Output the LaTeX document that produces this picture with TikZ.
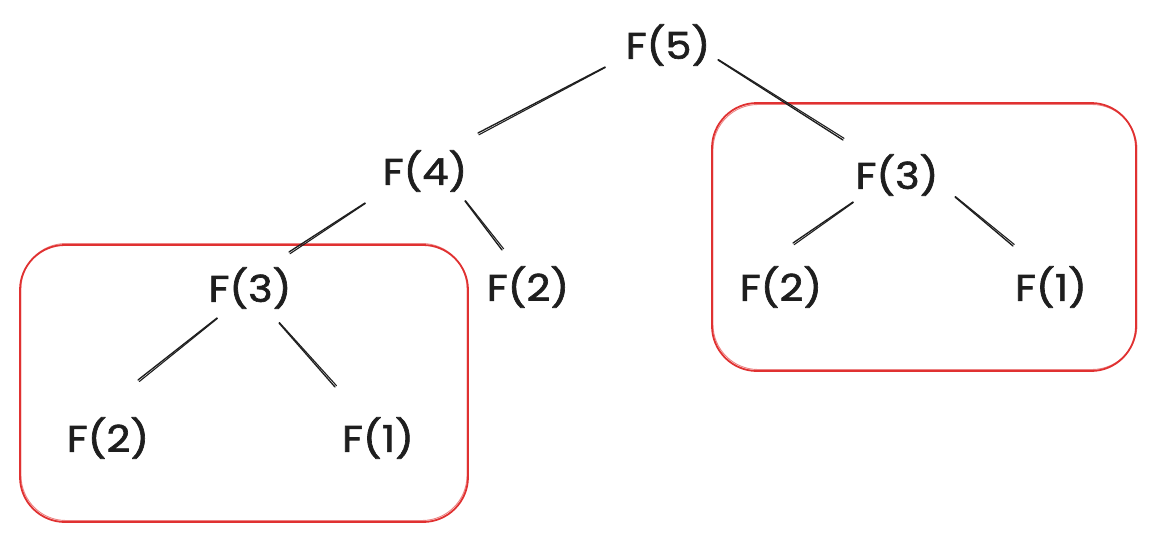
\documentclass[tikz,border=0pt]{standalone}
\usepackage{fontspec}
\setmainfont{Poppins}[FakeStretch=1.12, FakeBold=1.8]
\usetikzlibrary{calc}
\definecolor{ink}{HTML}{1E1E1E}
\definecolor{boxred}{HTML}{E03131}
\tikzset{
  lbl/.style={font=\fontsize{37}{40}\selectfont, text=ink, inner sep=0pt},
  edge/.style={draw=ink, line width=1.35pt, line cap=round},
  edgeb/.style={draw=ink, line width=1.1pt, line cap=round},
  grp/.style={draw=boxred, line width=1.8pt, rounded corners=45pt},
  grpb/.style={draw=boxred, line width=0.9pt, rounded corners=45pt, opacity=0.6},
}
\begin{document}
\begin{tikzpicture}[x=1pt, y=-1pt]
\useasboundingbox (0,0) rectangle (1156,541);

% groups
\draw[grp]  (20,245) rectangle (468,522);
\draw[grpb] (21,243.5) rectangle (467,520.5);
\draw[grp]  (712,103) rectangle (1136,371);
\draw[grpb] (713,104.5) rectangle (1137,369.5);

% nodes
\node[lbl] (n5)  at (668,45)  {F(5)};
\node[lbl] (n4)  at (425,171) {F(4)};
\node[lbl] (n3r) at (897,175) {F(3)};
\node[lbl] (n3l) at (250,288) {F(3)};
\node[lbl] (n2m) at (528,287) {F(2)};
\node[lbl] (n2r) at (781,287) {F(2)};
\node[lbl] (n1r) at (1051,287) {F(1)};
\node[lbl] (n2bl) at (108,438) {F(2)};
\node[lbl] (n1b) at (378,438) {F(1)};

% connectors (two close strokes, sketch style)
\foreach \a/\ax/\ay/\b/\bx/\by in {
  n5/-63/22/n4/53/-38,
  n5/50/15/n3r/-54/-35,
  n4/-60/32/n3l/39/-36,
  n4/40/30/n2m/-26/-37,
  n3l/-33/30/n2bl/30/-58,
  n3l/29/35/n1b/-43/-51,
  n3r/-44/27/n2r/12/-44,
  n3r/58/22/n1r/-38/-41}{
  \coordinate (P) at ($(\a)+(\ax,\ay)$);
  \coordinate (Q) at ($(\b)+(\bx,\by)$);
  \draw[edge]  (P) -- (Q);
  \draw[edgeb] ($(P)!0.6pt!90:(Q)$) -- ($(Q)!2.0pt!-90:(P)$);
}
\end{tikzpicture}
\end{document}
